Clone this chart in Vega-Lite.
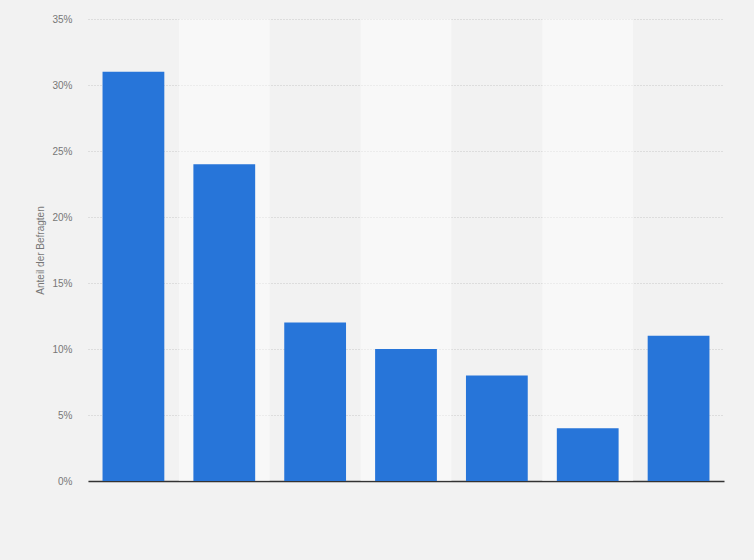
{
  "$schema": "https://vega.github.io/schema/vega-lite/v6.json",
  "description": "Anteil der Befragten",
  "autosize": {"type": "none"},
  "width": 636,
  "height": 462,
  "padding": {"left": 88, "top": 19, "right": 30, "bottom": 79},
  "background": "#f2f2f2",
  "config": {
    "view": {"stroke": null},
    "font": "Liberation Sans",
    "axis": {"labelFont": "Liberation Sans", "titleFont": "Liberation Sans"}
  },
  "data": {
    "values": [
      {"kategorie": "1", "anteil": 31, "band": 0},
      {"kategorie": "2", "anteil": 24, "band": 1},
      {"kategorie": "3", "anteil": 12, "band": 0},
      {"kategorie": "4", "anteil": 10, "band": 1},
      {"kategorie": "5", "anteil": 8, "band": 0},
      {"kategorie": "6", "anteil": 4, "band": 1},
      {"kategorie": "7", "anteil": 11, "band": 0}
    ]
  },
  "encoding": {
    "x": {
      "field": "kategorie",
      "type": "nominal",
      "sort": null,
      "scale": {
        "domain": ["1", "2", "3", "4", "5", "6", "7"],
        "paddingInner": 0.32,
        "paddingOuter": 0.16
      },
      "axis": {
        "title": null,
        "labels": false,
        "ticks": false,
        "domainColor": "#333333",
        "domainWidth": 1.5
      }
    }
  },
  "layer": [
    {
      "transform": [{"filter": "datum.band == 1"}],
      "mark": {"type": "bar", "color": "#ffffff", "opacity": 0.46, "width": {"band": 1.4706}},
      "encoding": {
        "y": {"datum": 35, "type": "quantitative", "scale": {"domain": [0, 35]}},
        "y2": {"datum": 0}
      }
    },
    {
      "mark": {"type": "bar", "color": "#2775d9"},
      "encoding": {
        "y": {
          "field": "anteil",
          "type": "quantitative",
          "scale": {"domain": [0, 35]},
          "axis": {
            "title": "Anteil der Befragten",
            "titleColor": "#777777",
            "titleFontSize": 10,
            "titleFontWeight": "normal",
            "titlePadding": 6,
            "values": [0, 5, 10, 15, 20, 25, 30, 35],
            "labelExpr": "datum.value + '%'",
            "labelColor": "#777777",
            "labelFontSize": 10,
            "labelPadding": 16,
            "ticks": false,
            "domain": false,
            "grid": true,
            "gridColor": "#c8c8c8",
            "gridDash": [1, 2],
            "gridWidth": 1
          }
        }
      }
    }
  ]
}
